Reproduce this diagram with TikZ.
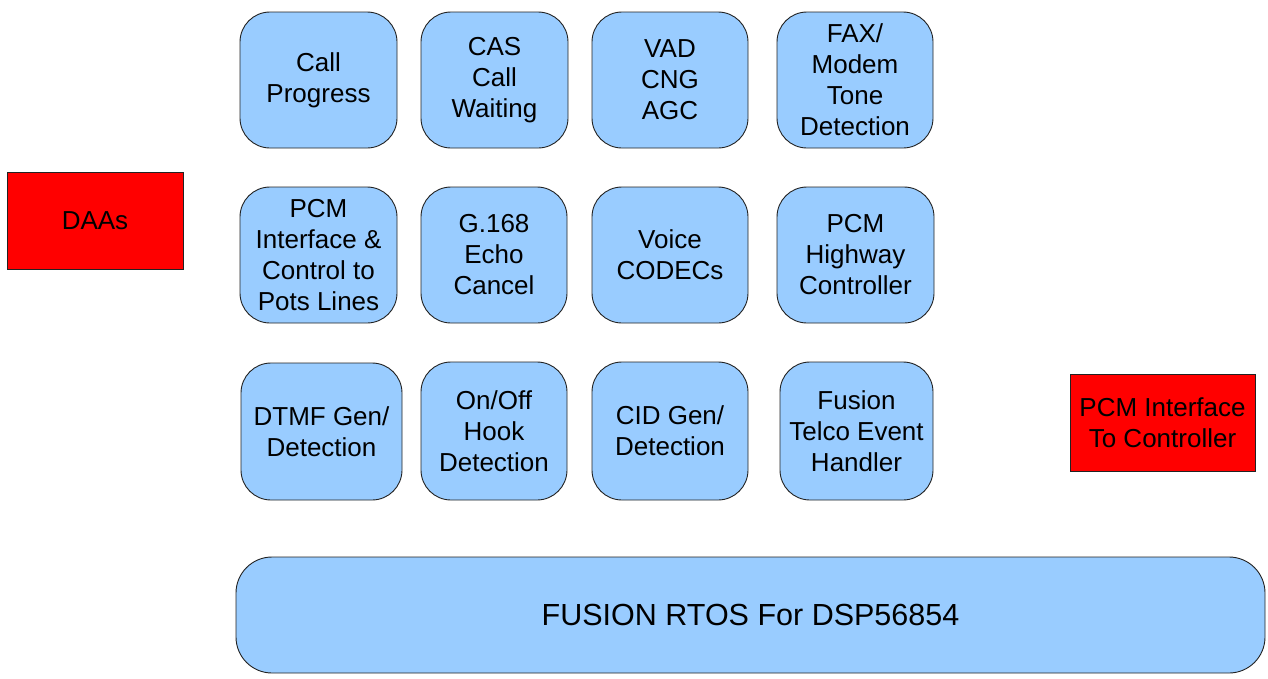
\documentclass[tikz,border=0pt]{standalone}
\usepackage{fontspec}
\setmainfont{Liberation Sans}
\definecolor{boxblue}{HTML}{99CCFF}
\definecolor{boxred}{HTML}{FF0000}
\definecolor{edge}{HTML}{222222}
\begin{document}
\begin{tikzpicture}[x=1pt,y=-1pt,
  blk/.style={draw=edge,line width=0.9pt,fill=boxblue,rounded corners=30pt,align=center,
    font=\fontsize{26}{31}\selectfont,inner sep=0pt,anchor=center},
  redblk/.style={draw=edge,line width=0.9pt,fill=boxred,align=center,
    font=\fontsize{26}{31}\selectfont,inner sep=0pt,anchor=center}]
\useasboundingbox (0,0) rectangle (1268,678);
% row 1
\node[blk,minimum width=157pt,minimum height=136pt] (cp) at (318.5,80) {Call\\Progress};
\node[blk,minimum width=147pt,minimum height=136pt] (cas) at (494.5,80) {CAS\\Call\\Waiting};
\node[blk,minimum width=156pt,minimum height=136pt] (vad) at (670,80) {VAD\\CNG\\AGC};
\node[blk,minimum width=156pt,minimum height=136pt] (fax) at (855,80) {FAX/\\Modem\\Tone\\Detection};
% row 2
\node[blk,minimum width=157pt,minimum height=136pt] (pcm) at (318.5,255) {PCM\\Interface \&\\Control to\\Pots Lines};
\node[blk,minimum width=146pt,minimum height=136pt] (echo) at (494,255) {G.168\\Echo\\Cancel};
\node[blk,minimum width=156pt,minimum height=136pt] (codec) at (670,255) {Voice\\CODECs};
\node[blk,minimum width=157pt,minimum height=136pt] (hwy) at (855.5,255) {PCM\\Highway\\Controller};
% row 3
\node[blk,minimum width=161pt,minimum height=137pt] (dtmf) at (321.5,431.5) {DTMF Gen/\\Detection};
\node[blk,minimum width=146pt,minimum height=138pt] (hook) at (494,431) {On/Off\\Hook\\Detection};
\node[blk,minimum width=156pt,minimum height=138pt] (cid) at (670,431) {CID Gen/\\Detection};
\node[blk,minimum width=153pt,minimum height=138pt] (evt) at (856.5,431) {Fusion\\Telco Event\\Handler};
% red blocks
\node[redblk,minimum width=176pt,minimum height=97pt] (daa) at (95,220.5) {DAAs};
\node[redblk,minimum width=185pt,minimum height=97pt] (ctl) at (1162.5,422.5) {PCM Interface\\To Controller};
% RTOS
\node[blk,rounded corners=36pt,minimum width=1029pt,minimum height=116pt,font=\fontsize{30.5}{35}\selectfont] (rtos) at (750.5,615) {FUSION RTOS For DSP56854};
\end{tikzpicture}
\end{document}
